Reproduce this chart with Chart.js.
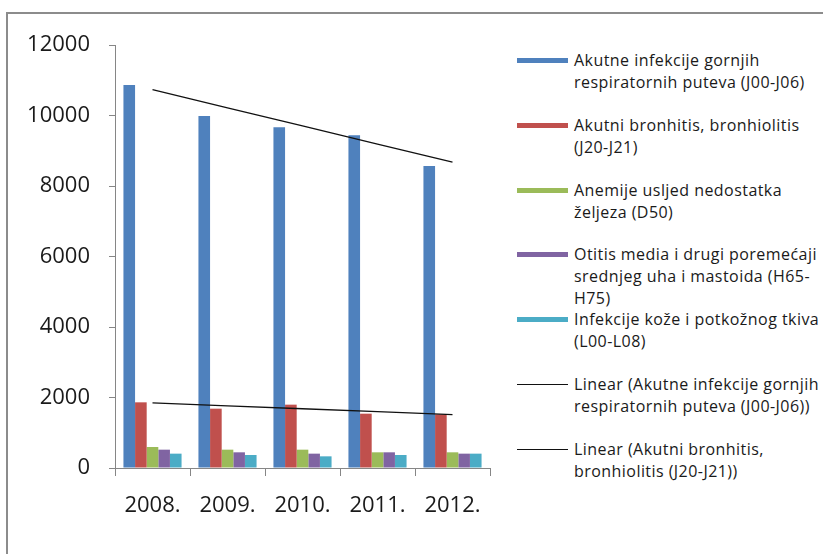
<!DOCTYPE html>
<html>
<head>
<meta charset="utf-8">
<script src="https://cdn.jsdelivr.net/npm/chart.js@4.4.1/dist/chart.umd.min.js"></script>
<style>
    html, body { margin: 0; padding: 0; background: #fff; }
    #wrap { position: relative; width: 823px; height: 554px; overflow: hidden; font-family: "Open Sans", sans-serif; }
    #frame { position: absolute; left: 6px; top: 12px; width: 900px; height: 700px; border: 2px solid #8c8c8c; }
    #chart { position: absolute; left: 0; top: 0; }
    #legend { position: absolute; left: 517px; top: 49px; }
    .item { position: relative; height: 64.8px; }
    .swatch { position: absolute; left: 0; top: 9px; width: 51px; height: 5px; }
    .swatch.line { top: 11px; height: 1px; background: #111; }
    .label { position: absolute; left: 57px; top: 0; width: 260px; white-space: pre-line; font-size: 16px; letter-spacing: 0.45px; line-height: 22px; color: #1a1a1a; }
</style>
</head>
<body>
<div id="wrap">
    <div id="frame"></div>
    <canvas id="chart" width="500" height="554"></canvas>
    <div id="legend"></div>
</div>
<script>
// Podaci
const years = ['2008.', '2009.', '2010.', '2011.', '2012.'];
const seriesNames = [
    'Akutne infekcije gornjih\nrespiratornih puteva (J00-J06)',
    'Akutni bronhitis, bronhiolitis\n(J20-J21)',
    'Anemije usljed nedostatka\nželjeza (D50)',
    'Otitis media i drugi poremećaji\nsrednjeg uha i mastoida (H65-\nH75)',
    'Infekcije kože i potkožnog tkiva\n(L00-L08)'
];
const respiratory = [10865, 9986, 9665, 9438, 8567];
const bronchitis = [1863, 1683, 1797, 1541, 1522];
const anemia = [596, 520, 520, 445, 445];
const otitis = [520, 445, 407, 445, 407];
const skin = [407, 369, 331, 369, 407];
const trendNames = [
    'Linear (Akutne infekcije gornjih\nrespiratornih puteva (J00-J06))',
    'Linear (Akutni bronhitis,\nbronhiolitis (J20-J21))'
];
const yTicks = [0, 2000, 4000, 6000, 8000, 10000, 12000];

const colors = ['#4f81bd', '#c0504d', '#9bbb59', '#8064a2', '#4bacc6'];

// Linearni trend (najmanji kvadrati)
function linearTrend(values) {
    const n = values.length;
    const mx = (n - 1) / 2;
    const my = values.reduce((a, b) => a + b, 0) / n;
    let num = 0, den = 0;
    values.forEach((v, i) => { num += (i - mx) * (v - my); den += (i - mx) * (i - mx); });
    const slope = num / den;
    return values.map((v, i) => my + slope * (i - mx));
}

const barSeries = [respiratory, bronchitis, anemia, otitis, skin];

const datasets = [];
// Trend linije (crtaju se iznad stubova)
[respiratory, bronchitis].forEach((vals, i) => {
    datasets.push({
        type: 'line',
        label: trendNames[i],
        data: linearTrend(vals),
        borderColor: '#111',
        borderWidth: 1.3,
        pointRadius: 0,
        fill: false,
        order: 0
    });
});
barSeries.forEach((vals, i) => {
    datasets.push({
        type: 'bar',
        label: seriesNames[i],
        data: vals,
        backgroundColor: colors[i],
        borderWidth: 0,
        categoryPercentage: 0.775,
        barPercentage: 1,
        order: 1
    });
});

const axisColor = '#868686';
const tickFont = { family: 'Open Sans', size: 22 };

new Chart(document.getElementById('chart'), {
    data: { labels: years, datasets: datasets },
    options: {
        responsive: false,
        animation: false,
        layout: { padding: { top: 45, right: 10, left: 0, bottom: 0 } },
        plugins: {
            legend: { display: false },
            tooltip: { enabled: false }
        },
        scales: {
            x: {
                grid: { drawOnChartArea: false, drawTicks: true, tickLength: 8, color: axisColor, offset: true },
                border: { color: axisColor, width: 1 },
                ticks: { font: tickFont, color: '#1a1a1a', padding: 17, maxRotation: 0 },
                afterFit: function(scale) { scale.height = 86; }
            },
            y: {
                min: 0,
                max: 12000,
                afterBuildTicks: function(scale) { scale.ticks = yTicks.map(v => ({ value: v })); },
                grid: { drawOnChartArea: false, drawTicks: true, tickLength: 6, color: axisColor },
                border: { color: axisColor, width: 1 },
                ticks: { font: tickFont, color: '#1a1a1a', padding: 19, callback: v => String(v) },
                afterFit: function(scale) { scale.width = 115; }
            }
        }
    }
});

// Legenda
const legend = document.getElementById('legend');
const legendItems = seriesNames.map((name, i) => ({ name: name, color: colors[i], line: false }))
    .concat(trendNames.map(name => ({ name: name, line: true })));
legendItems.forEach(item => {
    const el = document.createElement('div');
    el.className = 'item';
    const sw = document.createElement('div');
    sw.className = item.line ? 'swatch line' : 'swatch';
    if (!item.line) sw.style.background = item.color;
    const lab = document.createElement('div');
    lab.className = 'label';
    lab.textContent = item.name;
    el.appendChild(sw);
    el.appendChild(lab);
    legend.appendChild(el);
});
</script>
</body>
</html>
